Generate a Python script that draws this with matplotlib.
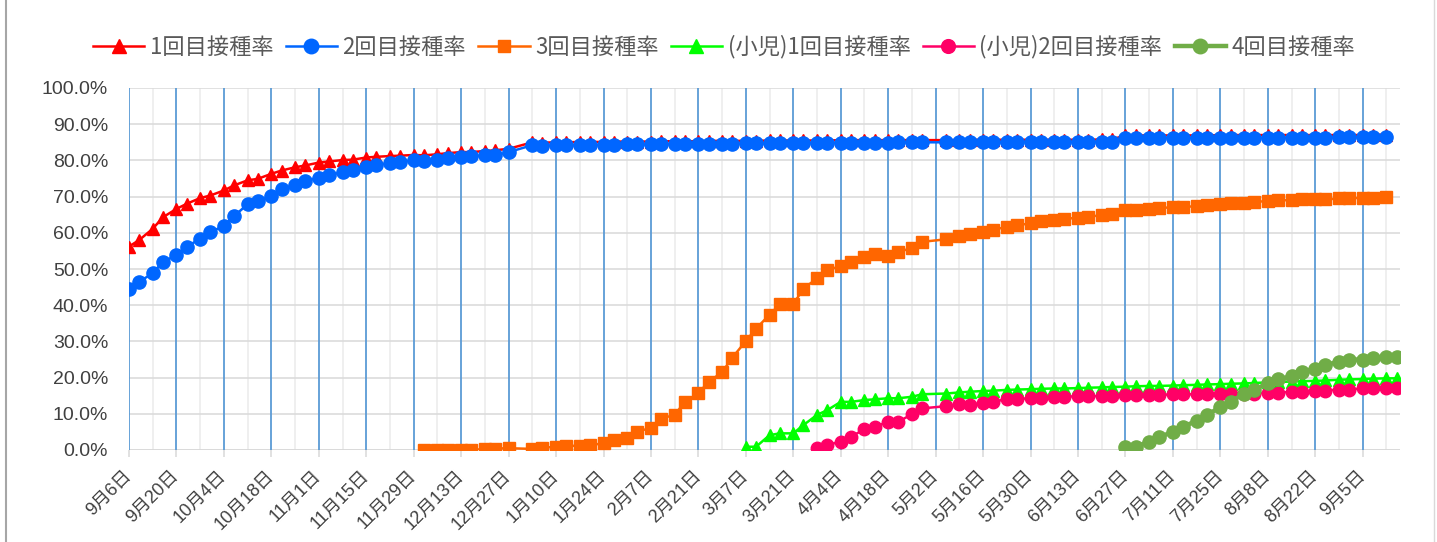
import numpy as np
import pandas as pd
import matplotlib
matplotlib.use("Agg")
import matplotlib.pyplot as plt
from matplotlib.lines import Line2D

JP = ["Noto Sans CJK JP", "DejaVu Sans"]
NUM = ["Liberation Sans", "Noto Sans CJK JP"]

# --- 集計日 (月・木) ---
DATES_2021 = ["9/6", "9/9", "9/13", "9/16", "9/20", "9/23", "9/27", "9/30",
              "10/4", "10/7", "10/11", "10/14", "10/18", "10/21", "10/25", "10/28",
              "11/1", "11/4", "11/8", "11/11", "11/15", "11/18", "11/22", "11/25", "11/29",
              "12/2", "12/6", "12/9", "12/13", "12/16", "12/20", "12/23", "12/27"]
DATES_2022 = ["1/3", "1/6", "1/10", "1/13", "1/17", "1/20", "1/24", "1/27", "1/31",
              "2/3", "2/7", "2/10", "2/14", "2/17", "2/21", "2/24", "2/28",
              "3/3", "3/7", "3/10", "3/14", "3/17", "3/21", "3/24", "3/28", "3/31",
              "4/4", "4/7", "4/11", "4/14", "4/18", "4/21", "4/25", "4/28",
              "5/5", "5/9", "5/12", "5/16", "5/19", "5/23", "5/26", "5/30",
              "6/2", "6/6", "6/9", "6/13", "6/16", "6/20", "6/23", "6/27", "6/30",
              "7/4", "7/7", "7/11", "7/14", "7/18", "7/21", "7/25", "7/28",
              "8/1", "8/4", "8/8", "8/11", "8/15", "8/18", "8/22", "8/25", "8/29",
              "9/1", "9/5", "9/8", "9/12", "9/15"]

# --- 接種率 (%) ---
DOSE1 = [56.2, 58.0, 61.1, 64.3, 66.6, 68.0, 69.6, 70.3,
         71.7, 73.1, 74.5, 74.9, 76.3, 77.2, 78.1, 78.6,
         79.4, 79.7, 80.1, 80.2, 80.8, 81.0, 81.2, 81.3, 81.5,
         81.4, 81.7, 82.0, 82.3, 82.3, 82.6, 82.8, 83.2,
         85.0, 84.9, 85.0, 85.0, 85.1, 85.1, 85.1, 85.2, 85.2,
         85.2, 85.2, 85.3, 85.3, 85.3, 85.3, 85.4, 85.4,
         85.4, 85.4, 85.4, 85.5, 85.5, 85.5, 85.5, 85.5, 85.5,
         85.6, 85.6, 85.6, 85.6, 85.6, 85.6, 85.6, 85.6,
         85.6, 85.6, 85.7, 85.7, 85.7, 85.7, 85.7, 85.7,
         85.7, 85.7, 85.7, 85.7, 85.7, 85.8, 85.8, 86.9, 86.9,
         86.9, 86.9, 86.9, 86.9, 86.9, 86.9, 87.0, 87.0,
         87.0, 87.0, 87.0, 87.0, 87.0, 87.0, 87.0, 87.0, 87.0,
         87.0, 87.0, 87.1, 87.1]
DOSE2 = [44.6, 46.5, 48.8, 52.0, 53.8, 56.1, 58.4, 60.2,
         61.9, 64.6, 67.9, 68.8, 70.1, 72.2, 73.1, 74.3,
         75.2, 75.9, 76.8, 77.3, 78.2, 78.8, 79.2, 79.6, 80.0,
         79.8, 80.2, 80.8, 81.0, 81.1, 81.4, 81.4, 82.3,
         84.2, 84.0, 84.2, 84.2, 84.2, 84.3, 84.3, 84.3, 84.4,
         84.4, 84.4, 84.5, 84.5, 84.5, 84.5, 84.6, 84.6,
         84.6, 84.7, 84.7, 84.7, 84.7, 84.8, 84.8, 84.8, 84.8,
         84.9, 84.9, 84.9, 84.9, 84.9, 85.0, 85.0, 85.0,
         85.0, 85.0, 85.0, 85.0, 85.0, 85.0, 85.1, 85.1,
         85.1, 85.1, 85.1, 85.1, 85.1, 85.1, 85.1, 86.2, 86.2,
         86.2, 86.2, 86.2, 86.2, 86.3, 86.3, 86.3, 86.3,
         86.3, 86.3, 86.3, 86.3, 86.3, 86.3, 86.3, 86.3, 86.4,
         86.4, 86.4, 86.4, 86.4]
DOSE3_START = "2021-12-02"
DOSE3 = [0.0, 0.0, 0.1, 0.1, 0.1, 0.2, 0.4, 0.5,
         0.3, 0.6, 0.9, 1.1, 1.2, 1.4, 1.8, 2.8, 3.2,
         5.1, 6.1, 8.7, 9.7, 13.3, 15.7, 18.8, 21.5,
         25.5, 30.1, 33.5, 37.4, 40.2, 40.3, 44.6, 47.4, 49.7,
         50.8, 51.8, 53.2, 54.1, 53.5, 54.6, 55.9, 57.5,
         58.2, 59.1, 59.8, 60.3, 60.9, 61.6, 62.1, 62.6,
         63.2, 63.5, 63.8, 64.2, 64.4, 64.9, 65.1, 66.2, 66.4,
         66.5, 66.9, 67.0, 67.2, 67.3, 67.6, 67.9, 68.1,
         68.3, 68.5, 68.8, 69.0, 69.0, 69.2, 69.2, 69.2, 69.5,
         69.5, 69.7, 69.7, 69.8]
CHILD1_START = "2022-03-07"
CHILD1 = [0.9, 0.9, 4.1, 4.6, 4.6, 6.9, 9.7, 11.0,
          13.3, 13.3, 13.8, 14.0, 14.3, 14.3, 14.7, 15.4,
          15.6, 15.9, 16.1, 16.3, 16.4, 16.6, 16.7, 16.8,
          16.9, 17.0, 17.0, 17.1, 17.2, 17.3, 17.4, 17.5, 17.6,
          17.7, 17.7, 17.8, 17.9, 18.0, 18.1, 18.2, 18.3,
          18.4, 18.5, 18.7, 18.8, 18.9, 19.0, 19.1, 19.2, 19.4,
          19.5, 19.6, 19.7, 19.8, 19.8]
CHILD2_START = "2022-03-28"
CHILD2 = [0.5, 1.4,
          2.3, 3.7, 5.7, 6.4, 7.8, 7.8, 9.9, 11.5,
          12.1, 12.6, 12.4, 13.1, 13.3, 14.1, 14.1, 14.3,
          14.3, 14.7, 14.7, 14.9, 14.9, 14.9, 14.9, 15.2, 15.2,
          15.2, 15.2, 15.4, 15.4, 15.4, 15.4, 15.4, 15.4,
          15.6, 15.6, 15.8, 15.8, 16.1, 16.1, 16.4, 16.4, 16.7,
          16.7, 17.0, 17.0, 17.2, 17.2]
DOSE4_START = "2022-06-27"
DOSE4 = [0.9, 0.9, 2.3, 3.5, 5.1, 6.4, 8.1, 9.7, 11.8, 13.3,
         15.6, 16.7, 18.4, 19.5, 20.4, 21.6, 22.5, 23.5, 24.4,
         25.0, 25.0, 25.3, 25.6, 25.8]

LABELS = ["1回目接種率", "2回目接種率", "3回目接種率",
          "(小児)1回目接種率", "(小児)2回目接種率", "4回目接種率"]

dates = pd.to_datetime(["2021/" + d for d in DATES_2021] + ["2022/" + d for d in DATES_2022])


def seg(values, start=None):
    i0 = 0 if start is None else list(dates).index(pd.Timestamp(start))
    return dates[i0:i0 + len(values)], np.array(values) / 100.0


fig = plt.figure(figsize=(14.37, 5.42), dpi=100)
ax = fig.add_axes([129 / 1437, 1 - 450 / 542, (1400 - 129) / 1437, (450 - 88) / 542])

x0 = pd.Timestamp("2021-09-06")
x1 = pd.Timestamp("2022-09-16")
ax.set_xlim(x0, x1)
ax.set_ylim(0, 1.0)

# grid: 横線(灰) / 週線(淡灰) / 2週線(青)
for v in np.arange(0.1, 1.01, 0.1):
    ax.axhline(v, color="#d9d9d9", lw=1.1, zorder=1)
ax.axhline(0, color="#d9d9d9", lw=1.4, zorder=1)
major = pd.date_range(x0, x1, freq="14D")
minor = pd.date_range(x0 + pd.Timedelta(days=7), x1, freq="14D")
for d in minor:
    ax.axvline(d, color="#efefef", lw=1.4, zorder=0.5)
for d in major:
    ax.axvline(d, color="#5b9bd5", lw=1.3, zorder=1.5)

styles = [
    dict(color="#ff0000", marker="^", ms=9, lw=1.8),
    dict(color="#0066ff", marker="o", ms=9.5, lw=1.8),
    dict(color="#ff6600", marker="s", ms=8.5, lw=1.8),
    dict(color="#00ff00", marker="^", ms=9, lw=1.8),
    dict(color="#ff0066", marker="o", ms=9, lw=1.8),
    dict(color="#70ad47", marker="o", ms=9.5, lw=3.2),
]
series = [seg(DOSE1), seg(DOSE2), seg(DOSE3, DOSE3_START),
          seg(CHILD1, CHILD1_START), seg(CHILD2, CHILD2_START), seg(DOSE4, DOSE4_START)]
for (xs, ys), lab, st in zip(series, LABELS, styles):
    ax.plot(xs, ys, label=lab, mec=st["color"], mfc=st["color"], zorder=3, **st)

for s in ax.spines.values():
    s.set_visible(False)

ax.set_yticks(np.arange(0, 1.01, 0.1))
ax.set_yticklabels([f"{v:.1f}%" for v in np.arange(0, 100.1, 10)], fontfamily=NUM,
                   fontsize=14, color="#404040")
ax.tick_params(axis="y", length=0, pad=15)

ticks = major[major <= pd.Timestamp("2022-09-05")]
ax.set_xticks(ticks)
ax.set_xticklabels([f"{d.month}月{d.day}日" for d in ticks],
                   rotation=45, ha="right", va="center", rotation_mode="anchor",
                   fontfamily=NUM, fontsize=13, color="#404040")
ax.tick_params(axis="x", length=5, width=1.1, color="#d9d9d9", pad=12)

leg = fig.legend(loc="center", bbox_to_anchor=(0.504, 1 - 47 / 542), ncol=6, frameon=False,
                 prop={"family": JP, "size": 16}, handlelength=2.3, handletextpad=0.25,
                 columnspacing=0.55, markerscale=1.1)
for t in leg.get_texts():
    t.set_color("#595959")

# chart frame edges
fig.add_artist(Line2D([6 / 1437, 6 / 1437], [0, 1], color="#a6a6a6", lw=1.5))
fig.add_artist(Line2D([1434 / 1437, 1434 / 1437], [0, 1], color="#d9d9d9", lw=1.0))

fig.savefig("out.png", dpi=100)
